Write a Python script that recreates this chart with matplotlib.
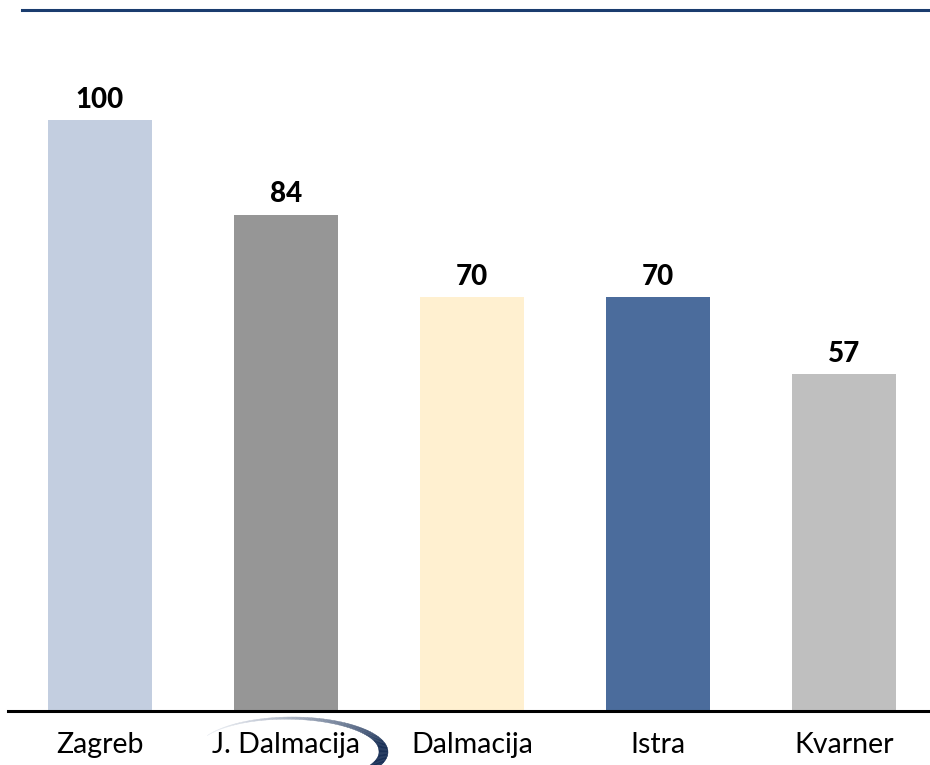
import matplotlib
matplotlib.use("Agg")
import matplotlib.pyplot as plt
import numpy as np
from matplotlib.collections import PolyCollection

categories = ["Zagreb", "J. Dalmacija", "Dalmacija", "Istra", "Kvarner"]
values = [100, 84, 70, 70, 57]
colors = ["#C3CEE0", "#969696", "#FFF0D0", "#4B6C9C", "#BFBFBF"]

W, H = 930, 765
fig = plt.figure(figsize=(W / 100, H / 100), dpi=100)

base_px, top_px = 711, 10
ax = fig.add_axes([8 / W, 1 - base_px / H, 1 - 8 / W, (base_px - top_px) / H])
x = np.arange(len(categories))
ax.bar(x, values, width=104 / 186, color=colors, zorder=2)
ax.set_xlim(-92 / 186, 4 + 86 / 186)
ax.set_ylim(0, 100 * (base_px - top_px) / (base_px - 120))
for s in ["top", "right", "left"]:
    ax.spines[s].set_visible(False)
ax.spines["bottom"].set_linewidth(2.2)
ax.spines["bottom"].set_color("black")
ax.set_yticks([])
ax.set_xticks(x)
ax.set_xticklabels(categories, fontsize=20.5, family="Lato")
ax.tick_params(axis="x", length=0, pad=15)

for xi, v in zip(x, values):
    ax.text(xi, v + 2.1, f"{v}", ha="center", va="baseline", fontsize=20,
            fontweight="black", family="Lato")

# top rule
fig.add_artist(plt.Line2D([22 / W, 1], [1 - 10 / H, 1 - 10 / H], color="#1A3C6E", lw=2.2))

# decorative swoosh under second label (figure pixel coords)
cx, cy = 292, 752
rx, ry = 96, 35
ang = np.linspace(np.radians(152), np.radians(-60), 90)
polys, cols = [], []
c0 = np.array([0.93, 0.94, 0.96])
c1 = np.array([0.10, 0.19, 0.34])
n = len(ang) - 1
for i in range(n):
    a0, a1 = ang[i], ang[i + 1]
    f0, f1 = i / n, (i + 1) / n
    th0 = 9 * min(1, f0 / 0.7)
    th1 = 9 * min(1, f1 / 0.7)
    pts = [
        (cx + rx * np.cos(a0), cy - ry * np.sin(a0)),
        (cx + rx * np.cos(a1), cy - ry * np.sin(a1)),
        (cx + (rx - th1) * np.cos(a1), cy - (ry - th1 * 0.6) * np.sin(a1)),
        (cx + (rx - th0) * np.cos(a0), cy - (ry - th0 * 0.6) * np.sin(a0)),
    ]
    polys.append([(px / W, 1 - py / H) for px, py in pts])
    cols.append(tuple(c0 + (c1 - c0) * min(1, (f0 / 0.65) ** 1.4)))
pc = PolyCollection(polys, facecolors=cols, edgecolors=cols, linewidths=0.3,
                    transform=fig.transFigure, zorder=0)
fig.add_artist(pc)

fig.savefig("out.png", dpi=100, facecolor="white")
